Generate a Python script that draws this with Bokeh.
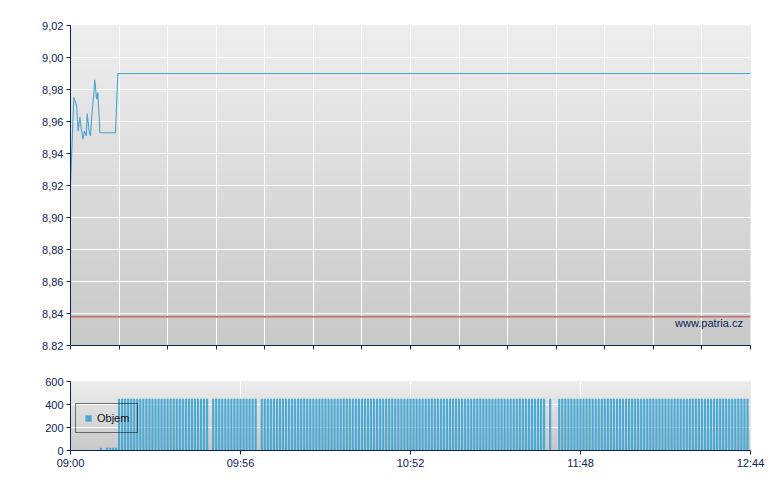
import numpy as np
from bokeh.plotting import figure
from bokeh.layouts import column
from bokeh.models import (FixedTicker, Label, Legend, LegendItem, Span,
                          Range1d, CustomJSTickFormatter)
from bokeh.embed import file_html
from bokeh.resources import INLINE

# ---- data (minutes after 09:00) ----
price_minutes = [0, 1.1, 2.0, 2.5, 3.1, 3.5, 4.1, 4.6, 5.2, 5.5, 6.2, 6.6, 7.1,
                 7.7, 8.0, 8.6, 9.0, 9.7, 14.8, 15.6, 224]
price_values = [8.92, 8.975, 8.970, 8.954, 8.963, 8.956, 8.949, 8.954, 8.951,
                8.965, 8.953, 8.951, 8.965, 8.978, 8.986, 8.974, 8.978, 8.953,
                8.953, 8.99, 8.99]
prev_close = 8.838

volume = [
    0, 0, 0, 0, 0, 0, 0, 0, 0, 0, 25, 0, 25, 25, 25, 25,
    450, 450, 450, 450, 450, 450, 450, 450, 450, 450, 450, 450, 450, 450, 450, 450,
    450, 450, 450, 450, 450, 450, 450, 450, 450, 450, 450, 450, 450, 450, 0, 450,
    450, 450, 450, 450, 450, 450, 450, 450, 450, 450, 450, 450, 450, 450, 0, 450,
    450, 450, 450, 450, 450, 450, 450, 450, 450, 450, 450, 450, 450, 450, 450, 450,
    450, 450, 450, 450, 450, 450, 450, 450, 450, 450, 450, 450, 450, 450, 450, 450,
    450, 450, 450, 450, 450, 450, 450, 450, 450, 450, 450, 450, 450, 450, 450, 450,
    450, 450, 450, 450, 450, 450, 450, 450, 450, 450, 450, 450, 450, 450, 450, 450,
    450, 450, 450, 450, 450, 450, 450, 450, 450, 450, 450, 450, 450, 450, 450, 450,
    450, 450, 450, 450, 450, 450, 450, 450, 450, 450, 450, 450, 450, 0, 450, 0,
    0, 450, 450, 450, 450, 450, 450, 450, 450, 450, 450, 450, 450, 450, 450, 450,
    450, 450, 450, 450, 450, 450, 450, 450, 450, 450, 450, 450, 450, 450, 450, 450,
    450, 450, 450, 450, 450, 450, 450, 450, 450, 450, 450, 450, 450, 450, 450, 450,
    450, 450, 450, 450, 450, 450, 450, 450, 450, 450, 450, 450, 450, 450, 450, 450,
]
vol_minutes = list(range(len(volume)))

price_ticks = [8.82, 8.84, 8.86, 8.88, 8.90, 8.92, 8.94, 8.96, 8.98, 9.00, 9.02]
price_tick_labels = ["8.82", "8,84", "8,86", "8,88", "8,90", "8,92", "8,94",
                     "8,96", "8,98", "9,00", "9,02"]
main_time_ticks = [0, 16, 32, 48, 64, 80, 96, 112, 128, 144, 160, 176, 192, 208, 224]
time_ticks = [0, 56, 112, 168, 224]
time_labels = ["09:00", "09:56", "10:52", "11:48", "12:44"]
vol_ticks = [0, 200, 400, 600]
vol_tick_labels = ["0", "200", "400", "600"]

NAVY = "#0b2358"
FONT = "Liberation Sans"
LINE_BLUE = "#4aa3cf"
BAR_BLUE = "#4ba9d3"

LOOKUP = """
let best = 0, d = 1e9;
for (let i = 0; i < tvals.length; i++) {
    const dd = Math.abs(tvals[i] - tick);
    if (dd < d) { d = dd; best = i; }
}
return labels[best];
"""


def gradient(top, bottom, n=256):
    img = np.zeros((n, 1), dtype=np.uint32)
    v = img.view(dtype=np.uint8).reshape((n, 1, 4))
    g = np.linspace(bottom, top, n).astype(np.uint8)
    v[:, 0, 0] = g
    v[:, 0, 1] = g
    v[:, 0, 2] = g
    v[:, 0, 3] = 255
    return img


def style(p):
    p.outline_line_color = None
    p.background_fill_color = "#dddddd"
    p.border_fill_color = "white"
    for ax in (p.xaxis[0], p.yaxis[0]):
        ax.axis_line_color = NAVY
        ax.axis_line_width = 1
        ax.major_tick_line_color = NAVY
        ax.major_tick_in = 0
        ax.major_tick_out = 4
        ax.minor_tick_line_color = None
        ax.major_label_text_font = FONT
        ax.major_label_text_font_size = "11px"
        ax.major_label_text_color = NAVY
    p.yaxis[0].major_label_standoff = 3
    p.xaxis[0].major_label_standoff = 2
    p.xgrid.grid_line_color = "white"
    p.ygrid.grid_line_color = "white"
    p.xgrid.grid_line_width = 1
    p.ygrid.grid_line_width = 1


# ---- price chart ----
p1 = figure(width=772, height=365, output_backend="svg", toolbar_location=None,
            x_range=Range1d(0, 224), y_range=Range1d(8.82, 9.02),
            min_border_left=70, min_border_right=22, min_border_top=25,
            min_border_bottom=20)
style(p1)
p1.image_rgba(image=[gradient(0xee, 0xc9)], x=0, y=8.82, dw=224, dh=0.2,
              level="image")
p1.xaxis[0].ticker = FixedTicker(ticks=main_time_ticks)
p1.xaxis[0].formatter = CustomJSTickFormatter(code='return "";')
p1.xgrid.ticker = FixedTicker(ticks=main_time_ticks)
p1.yaxis[0].ticker = FixedTicker(ticks=price_ticks)
p1.ygrid.ticker = FixedTicker(ticks=price_ticks)
p1.yaxis[0].formatter = CustomJSTickFormatter(
    args=dict(labels=price_tick_labels, tvals=price_ticks), code=LOOKUP)
p1.add_layout(Span(location=prev_close, dimension="width",
                   line_color="#c86a6a", line_width=1.5))
p1.line(price_minutes, price_values, line_color=LINE_BLUE, line_width=1.1)
p1.add_layout(Label(x=221.5, y=8.834, text="www.patria.cz",
                    text_align="right", text_baseline="middle",
                    text_font=FONT, text_font_size="11px", text_color=NAVY))

# ---- volume chart ----
p2 = figure(width=772, height=115, output_backend="svg", toolbar_location=None,
            x_range=Range1d(0, 224), y_range=Range1d(0, 600),
            min_border_left=70, min_border_right=22, min_border_top=16,
            min_border_bottom=30)
style(p2)
p2.image_rgba(image=[gradient(0xee, 0xc8)], x=0, y=0, dw=224, dh=600,
              level="image")
p2.xaxis[0].ticker = FixedTicker(ticks=time_ticks)
p2.xgrid.ticker = FixedTicker(ticks=time_ticks)
p2.yaxis[0].ticker = FixedTicker(ticks=vol_ticks)
p2.ygrid.ticker = FixedTicker(ticks=[200, 400])
p2.xaxis[0].formatter = CustomJSTickFormatter(
    args=dict(labels=time_labels, tvals=time_ticks), code=LOOKUP)
p2.yaxis[0].formatter = CustomJSTickFormatter(
    args=dict(labels=vol_tick_labels, tvals=vol_ticks), code=LOOKUP)
bars = p2.vbar(x=vol_minutes, top=volume, bottom=0, width=0.72,
               fill_color=BAR_BLUE, line_color=None)
legend = Legend(items=[LegendItem(label="Objem", renderers=[bars])],
                location=(5, 17), border_line_color="black",
                border_line_width=1, background_fill_alpha=0, padding=8,
                spacing=0, margin=0, label_text_font=FONT,
                label_text_font_size="11px", label_text_color="#111111",
                label_height=12, glyph_height=8, glyph_width=8,
                label_standoff=5)
p2.add_layout(legend)

layout = column(p1, p2, spacing=0)
open("out.html", "w").write(file_html(layout, INLINE))
